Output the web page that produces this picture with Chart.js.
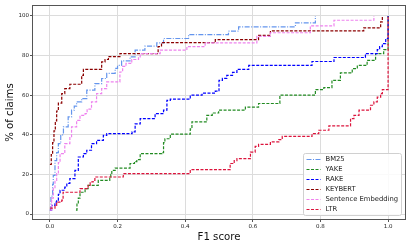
<!DOCTYPE html>
<html>
<head>
<meta charset="utf-8">
<script src="https://cdn.jsdelivr.net/npm/chart.js@4.4.1/dist/chart.umd.min.js"></script>
<style>
  html, body { margin: 0; padding: 0; background: #fff; }
</style>
</head>
<body>
<canvas id="chart" width="411" height="247"></canvas>
<script>
const xTicks = [0, 0.2, 0.4, 0.6, 0.8, 1.0];
const yTicks = [0, 20, 40, 60, 80, 100];
const seriesNames = ['BM25', 'YAKE', 'RAKE', 'KEYBERT', 'Sentence Embedding', 'LTR'];

// [F1 score, % of claims] at each step
const bm25 = [[0,2],[0.003,9],[0.008,15],[0.01,19.5],[0.015,27],[0.02,31],[0.025,35.5],[0.032,40],[0.04,44],[0.054,49],[0.064,52.4],[0.072,54.5],[0.079,56.6],[0.094,58.3],[0.109,62.5],[0.133,65.8],[0.153,68.4],[0.168,71],[0.193,73.5],[0.2,75],[0.212,77.3],[0.237,79.3],[0.252,82.7],[0.281,84.7],[0.316,86.4],[0.336,88.6],[0.41,90.6],[0.528,92.3],[0.558,94.5],[0.726,96.5],[0.785,100]];
const yake = [[0.077,2],[0.08,5],[0.084,8],[0.089,11],[0.104,12.8],[0.113,14.5],[0.143,17],[0.177,18],[0.18,20],[0.183,22],[0.193,23.2],[0.237,25.5],[0.25,26.5],[0.257,27.5],[0.267,30.5],[0.331,31],[0.336,36],[0.34,38],[0.356,40.3],[0.415,43],[0.42,46.5],[0.464,49.8],[0.48,51],[0.499,52.4],[0.578,54],[0.617,55.8],[0.68,60],[0.785,62.8],[0.81,63.8],[0.834,67.5],[0.859,71.2],[0.894,73.4],[0.909,75],[0.938,77.6],[0.963,81],[0.987,83],[1.0,100]];
const rake = [[0,2],[0.005,4.4],[0.015,6],[0.02,7],[0.025,10],[0.03,12],[0.044,13.6],[0.05,15.5],[0.059,17.9],[0.074,22],[0.084,28.8],[0.099,30.5],[0.109,32.2],[0.123,35.5],[0.138,37.2],[0.158,39.7],[0.168,40.6],[0.243,41.5],[0.252,45.5],[0.267,48.2],[0.311,50.7],[0.336,52.4],[0.346,57.4],[0.356,58],[0.415,60],[0.45,61],[0.489,62],[0.5,67.5],[0.51,68.5],[0.523,70],[0.54,71.5],[0.553,73],[0.588,75],[0.775,77],[0.84,79],[0.933,81],[0.968,83],[0.975,84.5],[0.983,86],[0.993,88.6],[1.0,100]];
const keybert = [[0,25],[0.004,30],[0.008,36],[0.012,42],[0.016,47],[0.02,52],[0.025,56],[0.035,60.8],[0.044,63.3],[0.059,65.5],[0.094,70],[0.099,73],[0.153,76.8],[0.163,78],[0.173,79.5],[0.207,81],[0.32,84.5],[0.33,86.5],[0.489,88],[0.617,90.2],[0.652,92.4],[0.928,94],[0.978,97],[0.983,100]];
const sentEmb = [[0,2],[0.005,8],[0.01,13],[0.015,17],[0.02,20.4],[0.025,26],[0.03,30.5],[0.044,35.5],[0.059,39],[0.064,44],[0.079,47.3],[0.089,49.8],[0.104,50.7],[0.11,53],[0.123,56.6],[0.138,60.8],[0.153,63.3],[0.168,66.7],[0.207,71.7],[0.215,74.5],[0.225,76],[0.242,78],[0.262,79.3],[0.267,81],[0.326,82.7],[0.405,84.5],[0.459,86.4],[0.612,89.7],[0.652,91.5],[0.77,95],[0.84,97.8],[0.958,100]];
const ltr = [[0,3],[0.015,4.4],[0.02,6],[0.035,7],[0.039,11],[0.089,12.8],[0.113,14.5],[0.119,16.2],[0.128,17],[0.133,18.7],[0.217,20.4],[0.415,22.4],[0.533,25.5],[0.545,27],[0.553,28],[0.593,31.3],[0.607,34.2],[0.617,35.2],[0.652,36.4],[0.677,37.6],[0.687,39.2],[0.775,40.6],[0.795,42.3],[0.825,44.5],[0.889,48.2],[0.899,49.8],[0.914,52.4],[0.948,54.9],[0.958,56.6],[0.968,59],[0.978,60.8],[0.983,62.8],[1.0,100]];

const allSeries = [bm25, yake, rake, keybert, sentEmb, ltr];
const colors = ['#6495ED', '#228B22', '#0000FF', '#8B0000', '#EE82EE', '#DC143C'];
const dashes = [[5, 1.5, 1, 1.5], [3, 1.5], [3, 1.5], [3, 1.5], [3, 1.5], [3, 1.5]];

const FONT = 'DejaVu Sans';

// box around the plot, like matplotlib spines
const framePlugin = {
    id: 'frame',
    beforeDatasetsDraw(chart) {
        const { ctx, chartArea: a } = chart;
        ctx.save();
        ctx.strokeStyle = '#555';
        ctx.lineWidth = 1;
        ctx.strokeRect(Math.round(a.left) - 0.5, Math.round(a.top) - 0.5, Math.round(a.right - a.left) + 1, Math.round(a.bottom - a.top) + 1);
        ctx.restore();
    }
};

// legend inside the plot, lower right
const legendPlugin = {
    id: 'innerLegend',
    afterDatasetsDraw(chart) {
        const { ctx, chartArea: a } = chart;
        const w = 98, rowH = 10, h = 62;
        const x0 = a.right - 3.5 - w, y0 = a.bottom - 3.5 - h;
        ctx.save();
        ctx.beginPath();
        ctx.roundRect(x0, y0, w, h, 2);
        ctx.fillStyle = 'rgba(255,255,255,0.85)';
        ctx.fill();
        ctx.strokeStyle = '#d0d0d0';
        ctx.lineWidth = 1;
        ctx.stroke();
        ctx.font = '6.8px "' + FONT + '"';
        ctx.textBaseline = 'middle';
        chart.data.datasets.forEach((ds, i) => {
            const y = y0 + 6 + i * rowH;
            ctx.beginPath();
            ctx.setLineDash(ds.borderDash);
            ctx.strokeStyle = ds.borderColor;
            ctx.lineWidth = 1.2;
            ctx.moveTo(x0 + 3, y);
            ctx.lineTo(x0 + 17, y);
            ctx.stroke();
            ctx.setLineDash([]);
            ctx.fillStyle = '#222';
            ctx.fillText(ds.label, x0 + 22, y);
        });
        ctx.restore();
    }
};

new Chart(document.getElementById('chart'), {
    type: 'line',
    data: {
        datasets: allSeries.map((s, i) => ({
            label: seriesNames[i],
            data: s.map(p => ({ x: p[0], y: p[1] })),
            borderColor: colors[i],
            borderDash: dashes[i],
            borderWidth: 1.2,
            pointRadius: 0,
            stepped: 'before',
            fill: false,
            order: allSeries.length - i
        }))
    },
    options: {
        responsive: false,
        animation: false,
        layout: { padding: { top: 6, right: 6, left: 0, bottom: 0 } },
        plugins: {
            legend: { display: false },
            tooltip: { enabled: false }
        },
        scales: {
            x: {
                type: 'linear',
                min: -0.05,
                max: 1.05,
                afterBuildTicks: scale => { scale.ticks = xTicks.map(v => ({ value: v })); },
                afterFit: scale => { scale.height = 28; },
                border: { display: false },
                grid: { color: '#dcdcdc', lineWidth: 1, tickLength: 3, tickColor: '#555' },
                ticks: {
                    font: { family: FONT, size: 5.5 },
                    color: '#222',
                    padding: 1,
                    maxRotation: 0,
                    callback: v => v.toFixed(1)
                },
                title: {
                    display: true,
                    text: 'F1 score',
                    font: { family: FONT, size: 10.2, lineHeight: 1.2 },
                    color: '#111',
                    padding: { top: 0, bottom: 4 }
                }
            },
            y: {
                min: -2.5,
                max: 105,
                afterBuildTicks: scale => { scale.ticks = yTicks.map(v => ({ value: v })); },
                afterFit: scale => { scale.width = 33; },
                border: { display: false },
                grid: { color: '#dcdcdc', lineWidth: 1, tickLength: 3, tickColor: '#555' },
                ticks: {
                    font: { family: FONT, size: 5.5 },
                    color: '#222',
                    padding: 1
                },
                title: {
                    display: true,
                    text: '% of claims',
                    font: { family: FONT, size: 10.2, lineHeight: 1.2 },
                    color: '#111',
                    padding: { top: 4, bottom: 0 }
                }
            }
        }
    },
    plugins: [framePlugin, legendPlugin]
});
</script>
</body>
</html>
